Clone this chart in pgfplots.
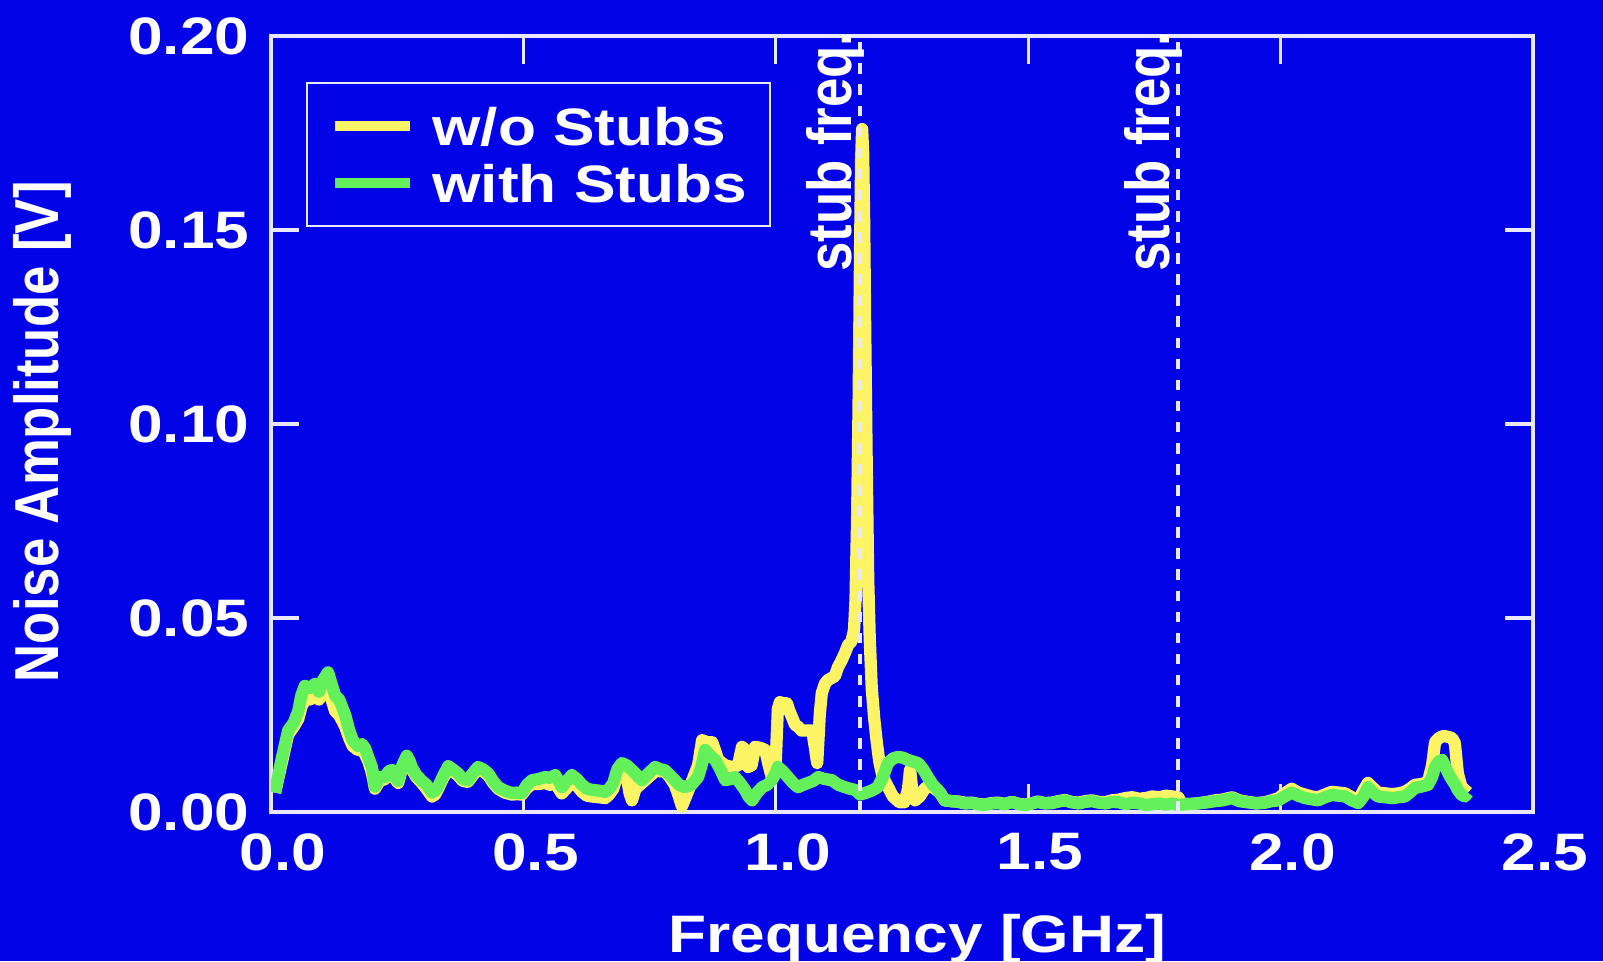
\documentclass[border=0pt]{standalone}
\usepackage{fontspec}
\setmainfont{Liberation Sans}[FakeStretch=1.18]
\newfontfamily\rotfont{Liberation Sans}
\usepackage{graphicx}
\usepackage{pgfplots}
\pgfplotsset{compat=1.18}
\usepackage{pgfplotstable}

\definecolor{bgblue}{RGB}{3,3,232}
\definecolor{lineyellow}{RGB}{252,244,100}
\definecolor{linegreen}{RGB}{100,240,90}
\definecolor{axiswhite}{RGB}{232,232,248}

% noise spectrum without stubs
\pgfplotstableread{
x y
0.008 0.005
0.020 0.012
0.034 0.020
0.045 0.022
0.054 0.024
0.060 0.027
0.067 0.029
0.078 0.029
0.087 0.030
0.095 0.029
0.103 0.031
0.113 0.031
0.120 0.029
0.127 0.026
0.135 0.025
0.147 0.022
0.155 0.019
0.162 0.017
0.172 0.016
0.180 0.016
0.186 0.015
0.193 0.013
0.200 0.010
0.206 0.006
0.215 0.008
0.226 0.0085
0.233 0.010
0.240 0.010
0.246 0.0085
0.252 0.0075
0.260 0.0115
0.269 0.014
0.275 0.0125
0.279 0.011
0.288 0.009
0.299 0.0075
0.308 0.006
0.319 0.004
0.325 0.0045
0.331 0.006
0.340 0.0085
0.351 0.011
0.360 0.0105
0.370 0.0095
0.380 0.008
0.390 0.0078
0.400 0.0095
0.410 0.011
0.420 0.0105
0.430 0.0095
0.440 0.0075
0.450 0.006
0.463 0.005
0.477 0.0045
0.487 0.0046
0.497 0.0045
0.507 0.0062
0.517 0.0072
0.530 0.0072
0.543 0.0075
0.553 0.007
0.563 0.0078
0.570 0.006
0.576 0.0048
0.586 0.0062
0.596 0.0078
0.606 0.0068
0.616 0.0052
0.626 0.0042
0.636 0.004
0.650 0.0038
0.662 0.0036
0.670 0.0045
0.678 0.006
0.686 0.0095
0.695 0.011
0.705 0.009
0.710 0.005
0.715 0.003
0.722 0.006
0.735 0.0075
0.748 0.009
0.761 0.0105
0.772 0.0105
0.780 0.0105
0.790 0.009
0.800 0.007
0.808 0.004
0.814 0.0015
0.822 0.004
0.834 0.008
0.846 0.012
0.854 0.0185
0.864 0.018
0.874 0.018
0.886 0.0134
0.900 0.012
0.913 0.0116
0.925 0.012
0.933 0.0168
0.940 0.016
0.945 0.0116
0.952 0.012
0.959 0.0168
0.970 0.0165
0.979 0.016
0.986 0.012
0.992 0.009
0.999 0.010
1.004 0.0265
1.008 0.0283
1.016 0.028
1.022 0.028
1.027 0.026
1.032 0.0245
1.038 0.0225
1.044 0.022
1.051 0.021
1.058 0.021
1.065 0.021
1.072 0.021
1.077 0.017
1.082 0.0126
1.087 0.025
1.091 0.0306
1.097 0.033
1.103 0.034
1.110 0.0345
1.117 0.035
1.123 0.0373
1.130 0.039
1.137 0.041
1.143 0.043
1.150 0.044
1.155 0.047
1.158 0.055
1.161 0.075
1.164 0.105
1.167 0.145
1.169 0.168
1.171 0.176
1.173 0.170
1.175 0.152
1.177 0.125
1.180 0.090
1.183 0.060
1.186 0.045
1.190 0.032
1.195 0.024
1.200 0.018
1.205 0.013
1.210 0.010
1.216 0.008
1.222 0.0065
1.232 0.004
1.245 0.0025
1.255 0.0025
1.262 0.006
1.266 0.011
1.270 0.006
1.276 0.003
1.285 0.004
1.295 0.006
1.305 0.007
1.315 0.006
1.325 0.005
1.335 0.003
1.348 0.0028
1.361 0.0027
1.375 0.0024
1.389 0.0024
1.400 0.0021
1.414 0.0019
1.427 0.0023
1.440 0.0024
1.454 0.0021
1.468 0.0026
1.481 0.0021
1.494 0.0019
1.507 0.0022
1.519 0.0027
1.533 0.0023
1.547 0.0024
1.560 0.0028
1.573 0.0031
1.586 0.0026
1.600 0.0024
1.613 0.0028
1.626 0.003
1.640 0.0026
1.653 0.0025
1.666 0.003
1.680 0.0032
1.693 0.0036
1.706 0.0038
1.720 0.0034
1.733 0.0036
1.746 0.004
1.760 0.0038
1.773 0.0042
1.786 0.004
1.797 0.0038
1.805 0.002
1.825 0.0021
1.840 0.0023
1.855 0.0026
1.870 0.003
1.885 0.0032
1.904 0.0038
1.918 0.003
1.935 0.0026
1.952 0.0023
1.969 0.0025
1.982 0.003
1.995 0.0035
2.008 0.0048
2.022 0.006
2.035 0.005
2.048 0.0045
2.061 0.004
2.074 0.0038
2.088 0.0045
2.101 0.0052
2.115 0.005
2.128 0.0048
2.141 0.0038
2.154 0.003
2.164 0.0055
2.173 0.0075
2.183 0.0062
2.193 0.005
2.207 0.0048
2.221 0.0046
2.234 0.0048
2.246 0.0052
2.256 0.006
2.266 0.007
2.280 0.0072
2.292 0.0078
2.300 0.012
2.306 0.018
2.313 0.019
2.320 0.0195
2.327 0.0195
2.334 0.0193
2.340 0.019
2.345 0.0178
2.348 0.014
2.351 0.010
2.358 0.0065
2.365 0.0057
2.371 0.005
}\woStubs

% noise spectrum with stubs
\pgfplotstableread{
x y
0.008 0.005
0.020 0.013
0.034 0.021
0.045 0.023
0.054 0.026
0.060 0.030
0.067 0.0325
0.078 0.032
0.087 0.033
0.095 0.031
0.103 0.034
0.113 0.036
0.120 0.033
0.127 0.030
0.135 0.029
0.147 0.025
0.155 0.021
0.162 0.0185
0.172 0.017
0.180 0.0175
0.186 0.0165
0.193 0.014
0.200 0.0115
0.206 0.0065
0.215 0.009
0.226 0.009
0.233 0.0105
0.240 0.0108
0.246 0.009
0.252 0.008
0.260 0.012
0.269 0.0145
0.275 0.013
0.279 0.0115
0.288 0.0095
0.299 0.008
0.308 0.007
0.319 0.005
0.325 0.0055
0.331 0.0065
0.340 0.009
0.351 0.0118
0.360 0.011
0.370 0.010
0.380 0.0085
0.390 0.0082
0.400 0.010
0.410 0.0116
0.420 0.011
0.430 0.010
0.440 0.008
0.450 0.0064
0.463 0.0055
0.477 0.0049
0.487 0.005
0.497 0.0049
0.507 0.007
0.517 0.0082
0.530 0.0085
0.543 0.009
0.553 0.0088
0.563 0.0095
0.570 0.008
0.576 0.0064
0.586 0.008
0.596 0.0095
0.606 0.0085
0.616 0.007
0.626 0.006
0.636 0.0057
0.650 0.0055
0.662 0.0052
0.670 0.006
0.678 0.0075
0.686 0.011
0.695 0.0126
0.705 0.012
0.715 0.0108
0.725 0.0095
0.735 0.0082
0.748 0.010
0.761 0.0116
0.772 0.011
0.780 0.0108
0.790 0.0095
0.800 0.0082
0.808 0.007
0.820 0.0064
0.833 0.007
0.846 0.009
0.853 0.012
0.860 0.016
0.870 0.0145
0.880 0.0134
0.890 0.011
0.900 0.0082
0.910 0.0085
0.919 0.009
0.929 0.0075
0.939 0.0057
0.946 0.004
0.953 0.003
0.963 0.005
0.973 0.0064
0.983 0.007
0.992 0.0082
1.000 0.010
1.004 0.0116
1.014 0.0105
1.024 0.009
1.034 0.0075
1.044 0.0064
1.054 0.007
1.064 0.0075
1.074 0.008
1.084 0.009
1.097 0.0085
1.111 0.0082
1.124 0.007
1.137 0.0064
1.147 0.006
1.157 0.0057
1.167 0.0045
1.177 0.0049
1.190 0.0055
1.202 0.0064
1.212 0.009
1.222 0.0126
1.232 0.0138
1.242 0.0142
1.252 0.014
1.262 0.0134
1.272 0.013
1.282 0.0126
1.292 0.011
1.301 0.009
1.311 0.007
1.321 0.0057
1.335 0.003
1.348 0.0028
1.361 0.0026
1.375 0.0022
1.389 0.0023
1.400 0.002
1.414 0.0018
1.427 0.0022
1.440 0.0023
1.454 0.002
1.468 0.0026
1.481 0.002
1.494 0.0018
1.507 0.0022
1.519 0.0026
1.533 0.0022
1.547 0.0023
1.560 0.0027
1.573 0.003
1.586 0.0025
1.600 0.0022
1.613 0.0026
1.626 0.0028
1.640 0.0024
1.653 0.0022
1.666 0.0026
1.680 0.0025
1.693 0.002
1.706 0.0024
1.720 0.0022
1.733 0.0018
1.746 0.002
1.760 0.0022
1.773 0.0019
1.786 0.0022
1.797 0.0018
1.810 0.002
1.825 0.0021
1.840 0.0023
1.855 0.0025
1.870 0.0028
1.885 0.003
1.904 0.0036
1.918 0.0028
1.935 0.0025
1.952 0.0022
1.969 0.0024
1.982 0.0028
1.995 0.003
2.008 0.004
2.022 0.005
2.035 0.0042
2.048 0.0036
2.061 0.0033
2.074 0.003
2.088 0.0038
2.101 0.0044
2.115 0.0042
2.128 0.004
2.141 0.003
2.154 0.0023
2.164 0.004
2.173 0.0064
2.183 0.005
2.193 0.004
2.207 0.0038
2.221 0.0036
2.234 0.0038
2.246 0.004
2.256 0.005
2.266 0.0062
2.280 0.0066
2.292 0.007
2.300 0.009
2.306 0.0116
2.313 0.013
2.320 0.0134
2.327 0.0115
2.334 0.0095
2.340 0.0082
2.346 0.007
2.351 0.0057
2.358 0.0045
2.365 0.004
2.371 0.005
}\withStubs

\newcommand{\rottext}[1]{{\rotfont\bfseries\fontsize{15}{18}\selectfont\scalebox{1}[1.18]{#1}}}

\begin{document}
\begin{tikzpicture}
\fill[bgblue] (-2.71,-1.49) rectangle (13.32,8.12);
\useasboundingbox (-2.71,-1.49) rectangle (13.32,8.12);
\begin{axis}[
    at={(0,0)}, anchor=south west,
    scale only axis,
    width=12.62cm, height=7.76cm,
    xmin=0, xmax=2.5, ymin=0, ymax=0.2,
    xtick={0,0.5,1,1.5,2,2.5},
    ytick={0,0.05,0.1,0.15,0.2},
    tick align=inside,
    major tick length=8pt,
    axis line style={axiswhite, line width=0.9pt},
    every tick/.style={axiswhite, line width=0.9pt},
    clip mode=individual,
    tick label style={text=white, font=\fontsize{15}{18}\selectfont\bfseries,
        /pgf/number format/assume math mode=true},
    xticklabel style={anchor=north, inner sep=0pt, yshift=-0.21cm, xshift=0.12cm,
        /pgf/number format/fixed, /pgf/number format/fixed zerofill,
        /pgf/number format/precision=1},
    yticklabel style={anchor=east, inner sep=0pt, xshift=-0.21cm,
        /pgf/number format/fixed, /pgf/number format/fixed zerofill,
        /pgf/number format/precision=2},
    xlabel={Frequency [GHz]},
    xlabel style={at={(axis description cs:0.512,-0.1804)}, anchor=base,
        text=white, font=\fontsize{15}{18}\selectfont\bfseries},
    ylabel={\rottext{Noise Amplitude [V]}},
    ylabel style={at={(axis description cs:-0.168,0.49)}, anchor=base,
        rotate=0, text=white},
    legend style={at={(0.0277,0.9407)}, anchor=north west,
        draw=axiswhite, line width=0.6pt, fill=none, text=white,
        font=\fontsize{15}{18}\selectfont\bfseries,
        inner xsep=0.23cm, inner ysep=0.22cm, row sep=0.15cm,
        nodes={inner sep=0pt, text height=0.40cm, text depth=0.02cm},
        /tikz/column sep=0.17cm},
    legend cell align=left,
    legend image code/.code={\draw[#1, line width=3pt] (0cm,0cm) -- (0.75cm,0cm);},
]
\addplot[lineyellow, line width=3.5pt, line join=round] table[x=x, y=y] {\woStubs};
\addplot[linegreen, line width=3.5pt, line join=round] table[x=x, y=y] {\withStubs};
\legend{w/o Stubs, with Stubs}

% stub frequency markers
\draw[axiswhite, line width=1.1pt, dash pattern=on 3pt off 3pt] (axis cs:1.166,0) -- (axis cs:1.166,0.2);
\draw[axiswhite, line width=1.1pt, dash pattern=on 3pt off 3pt] (axis cs:1.796,0) -- (axis cs:1.796,0.2);
\node[rotate=90, anchor=base east, inner sep=0pt, text=white] at (axis cs:1.150,0.2013) {\rottext{stub freq.}};
\node[rotate=90, anchor=base east, inner sep=0pt, text=white] at (axis cs:1.780,0.2013) {\rottext{stub freq.}};
\end{axis}
\end{tikzpicture}
\end{document}
